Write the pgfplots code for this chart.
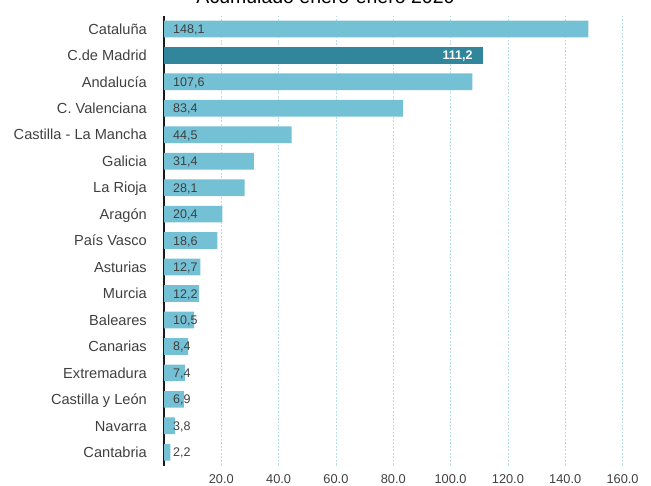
\documentclass[border=0pt]{standalone}
\usepackage{fontspec}
\setmainfont{Liberation Sans}
\usepackage{pgfplots}
\pgfplotsset{compat=1.18}
\usepackage{pgfplotstable}

\definecolor{barlight}{RGB}{116,192,212}
\definecolor{bardark}{RGB}{49,134,155}
\definecolor{gridc}{RGB}{184,222,233}
\definecolor{txt}{RGB}{64,64,64}

% index (0 = bottom) and value, Madrid apart
\pgfplotstableread{
idx v
0  2.2
1  3.8
2  6.9
3  7.4
4  8.4
5  10.5
6  12.2
7  12.7
8  18.6
9  20.4
10 28.1
11 31.4
12 44.5
13 83.4
14 107.6
16 148.1
}\regiones
\pgfplotstableread{
idx v
15 111.2
}\madrid

\begin{document}
\begin{tikzpicture}
\begin{axis}[
    at={(164bp,20.5bp)}, anchor=south west,
    scale only axis,
    width=487.2bp, height=449.8bp,
    xmin=0, xmax=170,
    ymin=-0.5, ymax=16.5,
    axis x line*=bottom, axis y line*=left,
    x axis line style={draw=none},
    y axis line style={draw=black!90, line width=2.5bp, -},
    every outer y axis line/.append style={-},
    major tick length=0pt,
    xtick={20,40,...,160},
    xmajorgrids,
    grid style={gridc, line width=0.8bp, dash pattern=on 2bp off 1.5bp},
    xticklabel style={anchor=base, yshift=-18bp, inner sep=0pt, txt,
        font=\fontsize{12.8bp}{15bp}\selectfont,
        /pgf/number format/.cd, fixed, fixed zerofill, precision=1, assume math mode=true},
    ytick={0,...,16},
    yticklabels={Cantabria, Navarra, Castilla y León, Extremadura, Canarias,
        Baleares, Murcia, Asturias, País Vasco, Aragón, La Rioja, Galicia,
        Castilla - La Mancha, C. Valenciana, Andalucía, C.de Madrid, Cataluña},
    yticklabel style={anchor=base east, inner sep=0pt, xshift=-17bp, yshift=-5.2bp, txt,
        font=\fontsize{14.6bp}{16bp}\selectfont},
    /pgf/number format/assume math mode=true,
]
\addplot[xbar, bar shift=0pt, bar width=16.7bp, fill=barlight, draw=none]
    table[x=v, y=idx] {\regiones};
\addplot[xbar, bar shift=0pt, bar width=16.7bp, fill=bardark, draw=none,
    point meta=x,
    nodes near coords={\pgfmathprintnumber[fixed, fixed zerofill, precision=1, use comma]{\pgfplotspointmeta}},
    every node near coord/.append style={anchor=base east, inner sep=0pt,
        xshift=-10bp, yshift=-4.5bp, white, font=\bfseries\fontsize{12.5bp}{15bp}\selectfont}]
    table[x=v, y=idx] {\madrid};
\addplot[only marks, mark=text, text mark={},
    point meta=\thisrow{v},
    nodes near coords={\pgfmathprintnumber[fixed, fixed zerofill, precision=1, use comma]{\pgfplotspointmeta}},
    every node near coord/.append style={anchor=base west, inner sep=0pt,
        xshift=9bp, yshift=-4.5bp, txt, font=\fontsize{12.5bp}{15bp}\selectfont}]
    table[x expr=0, y=idx] {\regiones};
\end{axis}
\node[anchor=base, inner sep=0pt, font=\fontsize{19.5bp}{22bp}\selectfont]
    at (325.5bp,482bp) {Acumulado enero-enero 2020};
\pgfresetboundingbox
\path[use as bounding box] (0,0) rectangle (651bp,486bp);
\end{tikzpicture}
\end{document}
